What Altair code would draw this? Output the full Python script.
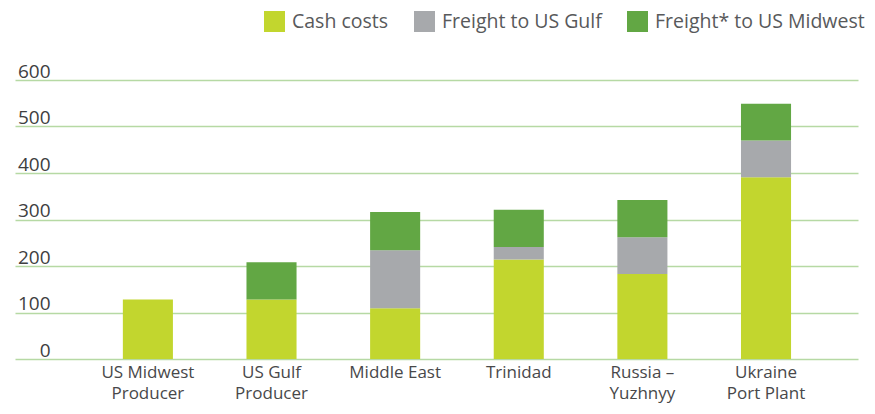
import pandas as pd
import altair as alt

categories = ["US Midwest\nProducer", "US Gulf\nProducer", "Middle East",
              "Trinidad", "Russia –\nYuzhnyy", "Ukraine\nPort Plant"]
series = ["Cash costs", "Freight to US Gulf", "Freight* to US Midwest"]
colors = ["#c2d62e", "#a7a9ac", "#62a744"]

cash_costs = [128, 128, 109, 214, 183, 391]
freight_gulf = [0, 0, 125, 27, 79, 79]
freight_midwest = [0, 80, 82, 80, 80, 79]

y_ticks = [0, 100, 200, 300, 400, 500, 600]

rows = []
for i, cat in enumerate(categories):
    for k, vals in enumerate([cash_costs, freight_gulf, freight_midwest]):
        if vals[i] > 0:
            rows.append({"region": cat, "series": series[k], "order": k, "value": vals[i]})
df = pd.DataFrame(rows)

font = "Open Sans"

chart = alt.Chart(df).mark_bar().encode(
    x=alt.X("region:N", sort=categories, title=None,
            scale=alt.Scale(paddingInner=0.595, paddingOuter=0.707, align=0.617),
            axis=alt.Axis(labelAngle=0, domain=False, ticks=False,
                          labelFontSize=17, labelLineHeight=21.5, labelPadding=5,
                          labelColor="#48484a", labelFont=font,
                          labelExpr="split(datum.label, '\\n')")),
    y=alt.Y("value:Q", stack="zero", title=None,
            scale=alt.Scale(domain=[0, 600], nice=False),
            axis=alt.Axis(values=y_ticks, domain=False, ticks=False, grid=True,
                          gridColor="#b6d9a4", gridWidth=1.5,
                          labelAlign="right", labelPadding=-35,
                          labelBaseline="alphabetic", labelOffset=-3,
                          labelFontSize=19, labelColor="#404041", labelFont=font)),
    color=alt.Color("series:N", sort=series,
                    scale=alt.Scale(domain=series, range=colors),
                    legend=alt.Legend(title=None, orient="none", direction="horizontal",
                                      legendX=249, legendY=-69,
                                      symbolType="square", symbolSize=441,
                                      symbolStrokeWidth=0, symbolOpacity=1,
                                      labelFontSize=19.5, labelColor="#58595b",
                                      labelFont=font, labelOffset=7, labelLimit=400,
                                      columnPadding=25)),
    order=alt.Order("order:Q"),
).properties(
    width=843,
    height=279,
    padding={"left": 7, "top": 3, "right": 0, "bottom": 3},
).configure_view(stroke=None)

chart.save("out.html", embed_options={"renderer": "svg", "actions": False})
